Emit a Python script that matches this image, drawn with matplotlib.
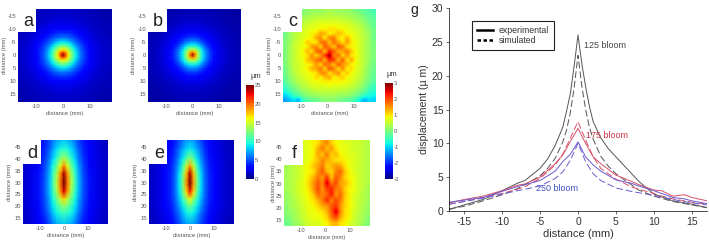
import numpy as np
import matplotlib
matplotlib.use("Agg")
import matplotlib.pyplot as plt
from matplotlib.patches import Rectangle
from matplotlib.lines import Line2D

plt.rcParams['font.family'] = ['Liberation Sans', 'DejaVu Sans']
plt.rcParams['axes.unicode_minus'] = False
W, H = 709, 241

# ---- radial panels: quarter table, mirrored about the centre
half_a = [0, 1, 2, 3, 4, 5, 6.5, 8, 10, 12, 14.5, 19]
map_a = [[25, 21, 16.5, 13.5, 10.8, 8.8, 6.2, 4.6, 3.2, 2.4, 1.8, 1.4],
         [21, 19, 15.8, 13, 10.5, 8.6, 6.1, 4.6, 3.2, 2.4, 1.8, 1.4],
         [16.5, 15.8, 14, 11.8, 9.8, 8, 5.8, 4.4, 3.1, 2.4, 1.8, 1.4],
         [13.5, 13, 11.8, 10.3, 8.8, 7.2, 5.4, 4.2, 3, 2.3, 1.8, 1.4],
         [10.8, 10.5, 9.8, 8.8, 7.4, 6.3, 5, 3.9, 2.9, 2.2, 1.7, 1.4],
         [8.8, 8.6, 8, 7.2, 6.3, 5.5, 4.4, 3.6, 2.7, 2.1, 1.7, 1.3],
         [6.2, 6.1, 5.8, 5.4, 5, 4.4, 3.7, 3.1, 2.4, 2, 1.6, 1.3],
         [4.6, 4.6, 4.4, 4.2, 3.9, 3.6, 3.1, 2.7, 2.2, 1.8, 1.5, 1.2],
         [3.2, 3.2, 3.1, 3, 2.9, 2.7, 2.4, 2.2, 1.9, 1.6, 1.4, 1.2],
         [2.4, 2.4, 2.4, 2.3, 2.2, 2.1, 2, 1.8, 1.6, 1.4, 1.3, 1.1],
         [1.8, 1.8, 1.8, 1.8, 1.7, 1.7, 1.6, 1.5, 1.4, 1.3, 1.1, 1],
         [1.4, 1.4, 1.4, 1.4, 1.4, 1.3, 1.3, 1.2, 1.2, 1.1, 1, .9]]
map_b = [[25, 19.5, 14.5, 11, 8.6, 6.8, 4.8, 3.5, 2.5, 1.9, 1.4, 1.1],
         [19.5, 17.8, 14, 11, 8.5, 6.7, 4.7, 3.5, 2.5, 1.9, 1.4, 1.1],
         [14.5, 14, 12.2, 9.8, 7.9, 6.2, 4.5, 3.4, 2.4, 1.9, 1.4, 1.1],
         [11, 11, 9.8, 8.4, 6.9, 5.5, 4.1, 3.2, 2.4, 1.8, 1.4, 1.1],
         [8.6, 8.5, 7.9, 6.9, 5.6, 4.7, 3.7, 3, 2.2, 1.7, 1.4, 1.1],
         [6.8, 6.7, 6.2, 5.5, 4.7, 4.1, 3.3, 2.7, 2.1, 1.7, 1.3, 1],
         [4.8, 4.7, 4.5, 4.1, 3.7, 3.3, 2.8, 2.4, 1.9, 1.5, 1.3, 1],
         [3.5, 3.5, 3.4, 3.2, 3, 2.7, 2.4, 2.1, 1.7, 1.4, 1.2, 1],
         [2.5, 2.5, 2.4, 2.4, 2.2, 2.1, 1.9, 1.7, 1.5, 1.3, 1.1, .9],
         [1.9, 1.9, 1.9, 1.8, 1.7, 1.7, 1.5, 1.4, 1.3, 1.1, 1, .9],
         [1.4, 1.4, 1.4, 1.4, 1.4, 1.3, 1.3, 1.2, 1.1, 1, .9, .8],
         [1.1, 1.1, 1.1, 1.1, 1.1, 1, 1, 1, .9, .9, .8, .7]]

# ---- elongated panels: columns at |x|, rows at distance
half_d_x = [0, 1.5, 3, 4.5, 6, 8, 10.5, 14, 19]
rows_d_y = [48, 44, 40, 37, 34, 31, 29, 26, 23, 20, 17, 12]
map_d = [[8, 7.5, 7, 6, 4.8, 3.8, 2.9, 2, 1.3],
         [10, 9.5, 8.5, 7.2, 5.5, 4.1, 3, 2.1, 1.3],
         [14, 12.5, 10.2, 8.4, 6.3, 4.5, 3.2, 2.2, 1.4],
         [19, 15.5, 12, 9.5, 7, 4.8, 3.3, 2.2, 1.4],
         [24, 18.5, 13.5, 10.5, 7.5, 5, 3.4, 2.3, 1.4],
         [25, 19.5, 14.2, 11, 7.8, 5.2, 3.5, 2.3, 1.4],
         [25, 19.5, 14.2, 11, 7.8, 5.2, 3.5, 2.3, 1.4],
         [23, 18.5, 13.5, 10.5, 7.8, 5.2, 3.5, 2.3, 1.4],
         [17, 14.5, 12, 9.6, 7.2, 5, 3.4, 2.3, 1.4],
         [13, 12, 10.5, 8.8, 6.8, 4.8, 3.3, 2.2, 1.4],
         [10.5, 10, 9.2, 8, 6.2, 4.4, 3.1, 2.1, 1.3],
         [8, 7.5, 7, 6, 4.8, 3.6, 2.7, 1.9, 1.2]]
map_e = [[7, 6.6, 5.8, 4.8, 3.8, 3, 2.3, 1.7, 1.1],
         [9, 8.4, 7.2, 5.8, 4.4, 3.3, 2.5, 1.8, 1.1],
         [13, 11.2, 8.8, 6.8, 5, 3.6, 2.6, 1.8, 1.2],
         [18.5, 14.5, 10.5, 7.6, 5.5, 3.8, 2.7, 1.9, 1.2],
         [24, 17.5, 11.8, 8.4, 5.8, 4, 2.8, 1.9, 1.2],
         [25, 18.5, 12.3, 8.7, 6, 4.1, 2.9, 1.9, 1.2],
         [25, 18.5, 12.3, 8.7, 6, 4.1, 2.9, 1.9, 1.2],
         [22, 17, 11.8, 8.4, 6, 4.1, 2.9, 1.9, 1.2],
         [16, 13, 10.2, 7.8, 5.7, 4, 2.8, 1.9, 1.2],
         [12, 10.5, 8.8, 6.9, 5.2, 3.7, 2.7, 1.9, 1.2],
         [9.5, 9, 7.6, 6, 4.7, 3.4, 2.5, 1.8, 1.1],
         [7, 6.6, 5.8, 4.8, 3.8, 2.9, 2.2, 1.6, 1]]

# ---- difference panels (21 x 21 and 15 x 19 samples, read by eye)
map_c = [
 [-.4, -.3, -.2, -.1, 0, .1, .2, .2, .2, .3, .3, .3, .2, .2, .2, .1, 0, -.1, -.2, -.3, -.4],
 [-.3, -.2, -.1, .1, .2, .3, .3, .4, .4, .4, .5, .4, .4, .4, .3, .3, .2, .1, -.1, -.2, -.3],
 [-.2, -.1, .1, .2, .4, .4, .5, .6, .6, .6, .6, .6, .6, .5, .5, .4, .3, .2, .1, -.1, -.2],
 [-.2, 0, .2, .4, .5, .6, .7, .7, .8, .8, .8, .8, .8, .7, .7, .6, .5, .4, .2, 0, -.2],
 [-.1, .1, .3, .5, .6, .7, .8, .8, .9, .9, 1.0, 1.0, .9, .9, .8, .7, .6, .5, .3, .1, -.1],
 [-.1, .2, .4, .5, .7, .8, .9, 1.0, 1.4, 1.3, .9, 1.0, 1.3, 1.1, .8, .8, .7, .5, .4, .2, -.1],
 [0, .2, .4, .6, .7, .8, .9, 1.4, 1.5, .9, 1.6, 1.7, 1.0, .9, 1.3, .9, .7, .6, .4, .2, -.1],
 [0, .2, .5, .6, .8, 1.2, 1.0, .9, 1.7, 1.8, 1.2, 1.8, 1.4, 1.0, 1.5, 1.0, .8, .6, .4, .2, 0],
 [0, .3, .5, .7, .8, .9, 1.5, 1.6, 1.1, 1.9, 1.6, 1.1, 1.9, 1.7, 1.0, .9, .8, .6, .4, .2, 0],
 [0, .3, .5, .7, .9, 1.3, 1.0, 1.8, 1.9, 1.2, 2.2, 1.9, 1.3, 1.4, 1.7, 1.2, .8, .6, .4, .2, 0],
 [0, .3, .5, .7, .8, 1.0, 1.6, 1.1, 1.5, 2.1, 2.8, 1.6, 1.8, 1.1, 1.5, 1.0, .9, .6, .4, .2, 0],
 [0, .3, .5, .7, .8, 1.2, 1.4, 1.7, 1.9, 1.3, 2.2, 2.1, 1.2, 1.9, 1.0, 1.4, .8, .6, .4, .2, 0],
 [0, .3, .5, .6, .8, .9, 1.0, 1.5, 1.1, 1.8, 1.6, 1.2, 1.9, 1.5, 1.3, .9, .8, .6, .4, .1, -.1],
 [-.1, .2, .5, .6, .8, .9, 1.3, 1.4, 1.7, 1.1, 1.9, 1.7, 1.0, 1.6, .9, 1.1, .7, .6, .3, .1, -.1],
 [-.1, .2, .4, .6, .7, .8, .9, 1.0, 1.5, 1.6, 1.0, 1.3, 1.6, .9, 1.2, .8, .7, .5, .3, 0, -.2],
 [-.2, .1, .3, .5, .6, .8, .8, 1.1, .9, 1.2, 1.4, .9, 1.0, 1.2, .8, .8, .6, .5, .2, 0, -.2],
 [-.3, 0, .2, .4, .5, .6, .8, .8, .9, .9, .9, .9, .9, .8, .8, .7, .5, .4, .1, -.1, -.3],
 [-.5, -.2, 0, .2, .4, .5, .6, .7, .7, .7, .8, .7, .7, .7, .6, .5, .4, .2, 0, -.3, -.5],
 [-.7, -.4, -.2, 0, .2, .3, .4, .5, .5, .5, .5, .5, .5, .4, .4, .3, .2, 0, -.2, -.5, -.6],
 [-1, -.8, -.5, -.3, -.1, .1, .2, .2, .3, .3, .3, .3, .2, .2, .2, .1, -.1, -.3, -.6, -.7, -.8],
 [-1.3, -1.1, -.9, -1.2, -.5, -.3, -.2, -.1, 0, .1, .1, .1, 0, -.1, -.2, -.3, -.5, -.9, -1.2, -.9, -1]]

map_f = [
 [.3, .4, .5, .6, .7, .8, .9, 1.0, 1.4, 1.6, 1.1, .9, .8, .7, .7, .6, .6, .5, .4],
 [.3, .4, .5, .6, .7, .8, .9, 1.3, 1.7, 1.2, 1.5, 1.0, .8, .8, .7, .6, .6, .5, .4],
 [.3, .4, .5, .6, .7, .8, .9, 1.4, 1.2, 1.7, 1.1, 1.3, .9, .8, .7, .7, .6, .5, .4],
 [.3, .4, .5, .6, .7, .8, 1.0, 1.2, 1.6, 1.4, 1.2, 1.0, 1.0, .9, .8, .7, .6, .5, .4],
 [.3, .4, .5, .6, .8, .9, 1.2, 1.4, 1.7, 1.1, 1.3, 1.5, 1.4, 1.0, .8, .7, .6, .5, .4],
 [.3, .4, .5, .6, .8, .9, 1.0, 1.5, 1.9, 1.3, 1.1, 1.6, 1.8, 1.2, .9, .7, .6, .5, .4],
 [.3, .4, .5, .6, .8, 1.0, 1.3, 1.7, 1.5, 2.1, 1.2, 1.9, 1.6, 1.1, .9, .8, .6, .5, .4],
 [.3, .4, .5, .7, .8, 1.1, 1.5, 1.9, 1.6, 2.6, 1.7, 2.0, 1.4, 1.3, 1.0, .8, .6, .5, .4],
 [.3, .4, .5, .7, .8, 1.0, 1.5, 2.0, 1.5, 2.1, 2.2, 1.7, 1.6, 1.1, .9, .8, .6, .5, .3],
 [.2, .3, .5, .6, .8, .9, 1.2, 1.8, 1.6, 1.8, 2.3, 1.5, 1.8, 1.2, .9, .7, .6, .4, .3],
 [.2, .3, .4, .6, .7, .9, 1.0, 1.3, 1.7, 2.2, 1.6, 2.0, 1.7, 1.1, .9, .7, .5, .4, .3],
 [.1, .3, .4, .5, .7, .8, .9, 1.1, 1.4, 1.5, 1.9, 2.1, 1.5, 1.1, .9, .7, .5, .4, .2],
 [.1, .2, .3, .5, .6, .8, .8, .9, 1.0, 1.3, 1.9, 2.6, 1.6, 1.0, .9, .6, .5, .3, .2],
 [0, .1, .3, .4, .6, .7, .8, .8, .9, 1.1, 1.7, 2.0, 1.4, 1.0, .9, .6, .4, .3, .1],
 [-.1, 0, .2, .3, .5, .6, .7, .7, .8, .9, 1.2, 1.3, 1.0, .9, .7, .5, .4, .2, 0]]

# ---- line plot values
x_125 = [-17, -15, -12.5, -10, -8, -7, -5, -4, -3, -2, -1.5, -1, -.5, 0, .5, 1, 1.5, 2, 3, 4, 5, 7, 8, 10, 12.5, 15, 17]
exp_125 = [.2, .9, 1.7, 3, 4.1, 4.5, 6.3, 7.7, 9.7, 12.4, 14.8, 17.4, 21.5, 26, 21.8, 18.4, 15.5, 13.2, 10.8, 9.2, 8, 5.6, 4.4, 2.5, 1.5, 1, .5]
sim_125 = [.3, .7, 1.5, 2.4, 3.3, 3.9, 5.2, 6.3, 7.8, 10.2, 12, 14.6, 18.3, 23, 18.5, 15, 12.4, 10.6, 8.1, 6.6, 5.5, 3.9, 3.1, 2.2, 1.4, .9, .5]
x_175 = [-17, -15, -12.5, -10, -8, -7, -5, -3, -2, -1, 0, 1, 2, 3, 5, 7, 8, 10, 11, 12.5, 14, 15, 17]
exp_175 = [1.2, 1.7, 2.2, 3, 3.8, 4, 5, 7, 8.3, 10.3, 12.2, 10, 8, 7, 5.3, 4.4, 3.9, 3.1, 3, 2.2, 2.4, 2, 1.5]
sim_175 = [1, 1.4, 2, 2.6, 3.2, 3.6, 4.8, 6.8, 8.4, 10.8, 13.2, 10.5, 8, 6.3, 4.7, 3.6, 3.2, 2.6, 2.2, 1.8, 1.5, 1.3, 1]
exp_250 = [1.3, 1.6, 2, 2.9, 3.6, 3.9, 4.5, 5.9, 7.3, 8.4, 10.2, 8, 6.8, 5.9, 4.6, 4.1, 3.7, 3, 2.6, 2, 1.8, 1.5, 1.1]
sim_250 = [1, 1.4, 1.9, 2.5, 3, 3.2, 3.7, 4.8, 5.8, 7.5, 10, 7.3, 5.5, 4.5, 3.4, 2.9, 2.7, 2.3, 2.1, 1.7, 1.4, 1.2, .9]

panel_ticks_x = [-10, 0, 10]
ticks_top_y = [-15, -10, -5, 0, 5, 10, 15]
ticks_low_y = [45, 40, 35, 30, 25, 20, 15]
cbar_ticks_1 = [0, 5, 10, 15, 20, 25]
cbar_ticks_2 = [-3, -2, -1, 0, 1, 2, 3]
g_ticks_x = [-15, -10, -5, 0, 5, 10, 15]
g_ticks_y = [0, 5, 10, 15, 20, 25, 30]

GREY = '#555555'
fig = plt.figure(figsize=(W / 100, H / 100), dpi=100)


def box(x0, y0, x1, y1):
    return fig.add_axes([x0 / W, 1 - y1 / H, (x1 - x0) / W, (y1 - y0) / H])


def mirror_axis(v):
    v = np.asarray(v, float)
    return np.r_[-v[:0:-1], v]


def mirror_cols(m):
    m = np.asarray(m, float)
    return np.c_[m[:, :0:-1], m]


def panel(rect, xs, ys, z, vmin, vmax, xlim, ylim, yticks, letter, notch, ylab_px, xlab_px=12):
    ax = box(*rect)
    if xs is None:
        mesh = ax.imshow(z, cmap='jet', vmin=vmin, vmax=vmax, aspect='auto',
                         interpolation='bilinear',
                         extent=(xlim[0], xlim[1], ylim[0], ylim[1]), origin='upper')
    else:
        mesh = ax.pcolormesh(xs, ys, z, cmap='jet', vmin=vmin, vmax=vmax,
                             shading='gouraud', rasterized=True)
    ax.set_xlim(*xlim)
    ax.set_ylim(*ylim)
    ax.set_xticks(panel_ticks_x)
    ax.set_yticks(yticks)
    ax.tick_params(length=0, labelsize=4.2, colors=GREY, pad=1.5)
    w, h = rect[2] - rect[0], rect[3] - rect[1]
    ax.set_xlabel('distance (mm)', fontsize=4.2, color=GREY, va='center')
    ax.set_ylabel('distance (mm)', fontsize=4.2, color=GREY, va='center')
    ax.xaxis.set_label_coords(0.5, -xlab_px / h)
    ax.yaxis.set_label_coords(ylab_px / w, 0.5)
    for s in ax.spines.values():
        s.set_visible(False)
    ax.add_patch(Rectangle((0, notch[1]), notch[0], 1 - notch[1], transform=ax.transAxes,
                           fc='white', ec='none', zorder=5))
    ax.text(notch[0] * 0.5 + 0.01, notch[1] + (1 - notch[1]) * 0.46, letter, transform=ax.transAxes,
            fontsize=13, color='#222222', ha='center', va='center', zorder=6)
    return mesh


grid_a = mirror_axis(half_a)
mz_a = mirror_cols(mirror_cols(map_a).T).T
mz_b = mirror_cols(mirror_cols(map_b).T).T
m_a = panel((18, 9, 112, 102), grid_a, grid_a, mz_a, 0, 25, (-17, 18.5), (18, -17.7),
            ticks_top_y, 'a', (0.19, 0.75), -14)
panel((148, 9, 241, 102), grid_a, grid_a, mz_b, 0, 25, (-17, 18.5), (18, -17.7),
      ticks_top_y, 'b', (0.20, 0.75), -15)
m_c = panel((283, 9, 376, 102), None, None, map_c, -3, 3, (-17, 18.5), (18, -17.7),
            ticks_top_y, 'c', (0.20, 0.75), -13)

dx = mirror_axis(half_d_x)
panel((23, 140, 108, 224), dx, rows_d_y, mirror_cols(map_d), 0, 25, (-17, 18.3), (12.5, 48),
      ticks_low_y, 'd', (0.21, 0.71), -13)
panel((149, 140, 234, 224), dx, rows_d_y, mirror_cols(map_e), 0, 25, (-17, 18.3), (12.5, 48),
      ticks_low_y, 'e', (0.21, 0.71), -13)
panel((284, 140, 370, 226), None, None, map_f, -3, 3, (-17, 18), (12.5, 48),
      ticks_low_y, 'f', (0.22, 0.71), -11, 11)

for rect, mappable, ticks, mu in (((246, 85, 254, 179), m_a, cbar_ticks_1, (256, 77)),
                                  ((385, 83, 393, 179), m_c, cbar_ticks_2, (392, 74))):
    cax = box(*rect)
    cb = fig.colorbar(mappable, cax=cax)
    cb.set_ticks(ticks)
    cb.ax.tick_params(length=0, labelsize=4.2, colors=GREY, pad=0.5)
    cb.outline.set_visible(False)
    fig.text(mu[0] / W, 1 - mu[1] / H, 'µm', fontsize=5.5, color='#333333', ha='center', va='center')

# ---- line panel
g = box(449, 8, 707, 211)
c_black, c_red, c_blue = '#555555', '#d8506a', '#6a5ad0'
g.plot(x_125, exp_125, color=c_black, lw=0.7)
g.plot(x_125, sim_125, color=c_black, lw=0.7, ls=(0, (7, 3)))
g.plot(x_175, exp_175, color=c_red, lw=0.7)
g.plot(x_175, sim_175, color=c_red, lw=0.7, ls=(0, (7, 3)))
g.plot(x_175, exp_250, color=c_blue, lw=0.7)
g.plot(x_175, sim_250, color=c_blue, lw=0.7, ls=(0, (7, 3)))
g.set_xlim(-17, 17)
g.set_ylim(0, 30)
g.set_xticks(g_ticks_x)
g.set_yticks(g_ticks_y)
g.tick_params(length=2, width=0.5, labelsize=7.5, colors='#333333', pad=2)
g.set_xlabel('distance (mm)', fontsize=8, color='#333333', labelpad=1.5)
g.set_ylabel('displacement (µ m)', fontsize=7.6, color='#333333', labelpad=2)
g.spines[['top', 'right']].set_visible(False)
for s in ('left', 'bottom'):
    g.spines[s].set_linewidth(0.5)
g.text(0.8, 24.5, '125 bloom', fontsize=6.5, color='#444444', va='center')
g.text(1, 11.1, '175 bloom', fontsize=6.5, color='#cc3344', va='center')
g.text(-5.5, 3.3, '250 bloom', fontsize=6.5, color='#4050c0', va='center')
handles = [Line2D([], [], color='black', lw=1.8),
           Line2D([], [], color='black', lw=1.8, ls=(0, (1.4, 1)))]
leg = g.legend(handles, ['experimental', 'simulated'], loc='upper left',
               bbox_to_anchor=((472 - 449) / 258, 1 - (21 - 8) / 203), borderaxespad=0,
               fontsize=6.3, frameon=True, fancybox=False, handlelength=1.8,
               handletextpad=0.7, labelspacing=0.15, borderpad=0.55, edgecolor='#222222')
leg.get_frame().set_linewidth(0.8)
leg.get_frame().set_alpha(1)
for t in leg.get_texts():
    t.set_color('#333333')
fig.text(414 / W, 1 - 10 / H, 'g', fontsize=10, color='#222222', ha='center', va='center')

fig.savefig('out.png', dpi=100)
